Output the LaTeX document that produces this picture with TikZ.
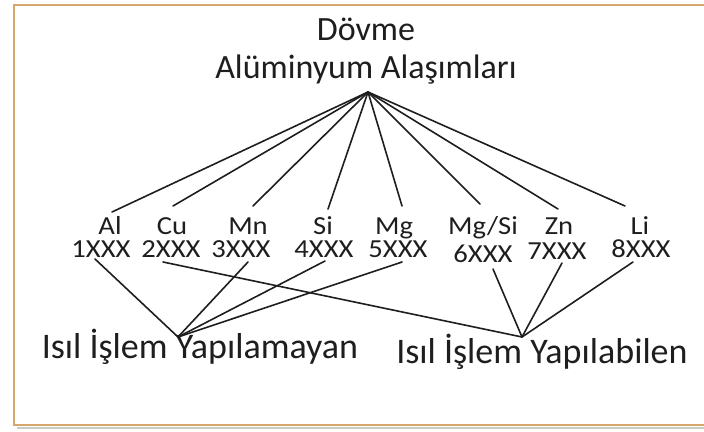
\documentclass[tikz,border=0pt]{standalone}
\usepackage{fontspec}
\setmainfont{Carlito}
\newfontfamily\labfont[FakeStretch=1.1]{Carlito}
\definecolor{frameC}{HTML}{D6A66C}
\definecolor{shadowC}{HTML}{C9CCC8}
\definecolor{inkC}{HTML}{1E1E1E}
\tikzset{
  conn/.style={draw=inkC, line width=1.6pt, line cap=round},
  title/.style={anchor=base, inner sep=0pt, text=inkC, font=\fontsize{34}{34}\selectfont},
  elem/.style={anchor=base, inner sep=0pt, text=inkC, text depth=0pt, font=\labfont\fontsize{26}{26}\selectfont},
  series/.style={elem, text height=17pt},
  group/.style={anchor=base, inner sep=0pt, text=inkC, font=\fontsize{36}{36}\selectfont}
}
\begin{document}
\begin{tikzpicture}[x=1pt, y=-1pt]
\useasboundingbox (0,0) rectangle (704,431);
% frame (its right side lies beyond the picture's edge)
\draw[shadowC, line width=1.5pt] (17,428) -- (740,428);
\draw[frameC, line width=2.2pt] (740,5) -- (14,5) -- (14,425) -- (740,425);
% titles
\node[title] (t1) at (366,40) {Dövme};
\node[title] (t2) at (366,78) {Alüminyum Alaşımları};
\coordinate (apex) at (368,92);
% elements
\node[elem] (al) at (110,234) {Al};
\node[elem] (cu) at (172,234) {Cu};
\node[elem] (mn) at (248,234) {Mn};
\node[elem] (si) at (323,234) {Si};
\node[elem] (mg) at (394,234) {Mg};
\node[elem] (mgsi) at (483,234) {Mg/Si};
\node[elem] (zn) at (559,234) {Zn};
\node[elem] (li) at (640,234) {Li};
% series
\node[series] (s1) at (101,257) {1XXX};
\node[series] (s2) at (171,257) {2XXX};
\node[series] (s3) at (241,257) {3XXX};
\node[series] (s4) at (324,257) {4XXX};
\node[series] (s5) at (398,257) {5XXX};
\node[series] (s6) at (483,262) {6XXX};
\node[series] (s7) at (557,259) {7XXX};
\node[series] (s8) at (641,257) {8XXX};
% groups
\node[group] (nh) at (200,358) {Isıl İşlem Yapılamayan};
\node[group] (hh) at (542,363) {Isıl İşlem Yapılabilen};
\coordinate (jA) at ([xshift=-22pt,yshift=21pt]nh.base);
\coordinate (jB) at ([xshift=-20pt,yshift=26pt]hh.base);
% apex connectors
\draw[conn] (apex) -- ([xshift=2pt,yshift=22pt]al.base);
\draw[conn] (apex) -- ([xshift=1pt,yshift=28pt]cu.base);
\draw[conn] (apex) -- ([xshift=5pt,yshift=28pt]mn.base);
\draw[conn] (apex) -- ([xshift=5pt,yshift=25pt]si.base);
\draw[conn] (apex) -- ([xshift=8pt,yshift=28pt]mg.base);
\draw[conn] (apex) -- ([xshift=-3pt,yshift=30pt]mgsi.base);
\draw[conn] (apex) -- ([xshift=-1pt,yshift=25pt]zn.base);
\draw[conn] (apex) -- ([xshift=-15pt,yshift=28pt]li.base);
% group connectors
\draw[conn] ([xshift=-6pt,yshift=-2pt]s1.base) -- (jA);
\draw[conn] ([xshift=7pt,yshift=-5pt]s3.base) -- (jA);
\draw[conn] ([xshift=1pt,yshift=-4pt]s4.base) -- (jA);
\draw[conn] ([xshift=4pt,yshift=-5pt]s5.base) -- (jA);
\draw[conn] ([xshift=-8pt,yshift=-5pt]s2.base) -- (jB);
\draw[conn] ([xshift=10pt,yshift=-7pt]s6.base) -- (jB);
\draw[conn] ([xshift=5pt,yshift=-4pt]s7.base) -- (jB);
\draw[conn] ([xshift=-8pt,yshift=-5pt]s8.base) -- (jB);
\end{tikzpicture}
\end{document}
